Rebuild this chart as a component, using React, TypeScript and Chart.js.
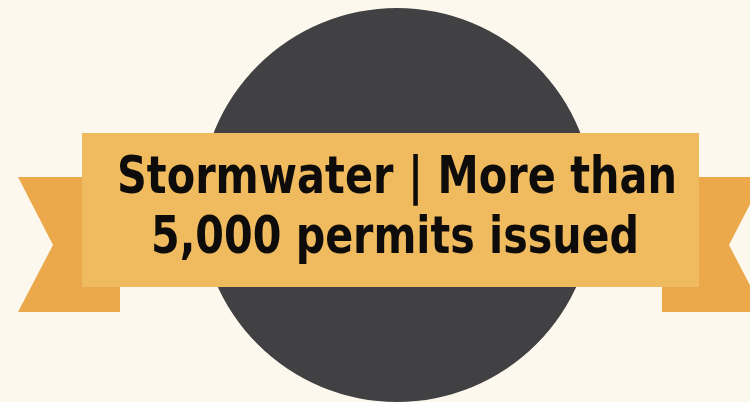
import React, { useEffect, useRef } from "react";
import { Chart, registerables } from "chart.js";

Chart.register(...registerables);

// Data
const categories = ["Stormwater permits issued"];
const permitValues = [5000];
const bannerLines = ["Stormwater | More than", "5,000 permits issued"];

const COLORS = {
  background: "#fcf8ee",
  circle: "#414042",
  banner: "#f0ba5e",
  tail: "#eca94c",
  text: "#0e0c0a",
};

const ribbonPlugin = {
  id: "ribbon",
  beforeDraw(chart: any) {
    const { ctx, width, height } = chart;
    ctx.save();
    ctx.fillStyle = COLORS.background;
    ctx.fillRect(0, 0, width, height);
    ctx.restore();
  },
  afterDatasetsDraw(chart: any) {
    const arc = chart.getDatasetMeta(0).data[0];
    if (!arc) return;
    const { ctx } = chart;
    const cx = arc.x;
    const cy = arc.y;
    ctx.save();
    // left tail
    ctx.fillStyle = COLORS.tail;
    ctx.beginPath();
    ctx.moveTo(cx - 379, cy - 28);
    ctx.lineTo(cx - 277, cy - 28);
    ctx.lineTo(cx - 277, cy + 107);
    ctx.lineTo(cx - 379, cy + 107);
    ctx.lineTo(cx - 344, cy + 40);
    ctx.closePath();
    ctx.fill();
    // right tail
    ctx.beginPath();
    ctx.moveTo(cx + 367, cy - 28);
    ctx.lineTo(cx + 265, cy - 28);
    ctx.lineTo(cx + 265, cy + 107);
    ctx.lineTo(cx + 367, cy + 107);
    ctx.lineTo(cx + 332, cy + 40);
    ctx.closePath();
    ctx.fill();
    // main banner
    ctx.fillStyle = COLORS.banner;
    ctx.fillRect(cx - 315, cy - 72, 617, 154);
    // text
    ctx.fillStyle = COLORS.text;
    ctx.textAlign = "center";
    ctx.textBaseline = "alphabetic";
    ctx.font = 'bold 52px "DejaVu Sans Condensed", "Liberation Sans Narrow", sans-serif';
    ctx.fillText(bannerLines[0], cx, cy - 12, 560);
    ctx.fillText(bannerLines[1], cx - 2, cy + 48, 488);
    ctx.restore();
  },
};

export default function App() {
  const canvasRef = useRef<HTMLCanvasElement | null>(null);

  useEffect(() => {
    document.body.style.margin = "0";
    document.body.style.background = COLORS.background;
    const canvas = canvasRef.current;
    if (!canvas) return;
    const chart = new Chart(canvas, {
      type: "pie",
      data: {
        labels: categories,
        datasets: [
          {
            data: permitValues,
            backgroundColor: [COLORS.circle],
            borderWidth: 0,
          },
        ],
      },
      options: {
        animation: false,
        responsive: true,
        maintainAspectRatio: false,
        layout: { padding: { left: 44, right: 0, top: 8, bottom: 0 } },
        plugins: {
          legend: { display: false },
          tooltip: { enabled: false },
        },
        events: [],
      },
      plugins: [ribbonPlugin],
    });
    return () => chart.destroy();
  }, []);

  return (
    <div style={{ width: 750, height: 402, position: "relative" }}>
      <canvas ref={canvasRef} />
    </div>
  );
}
